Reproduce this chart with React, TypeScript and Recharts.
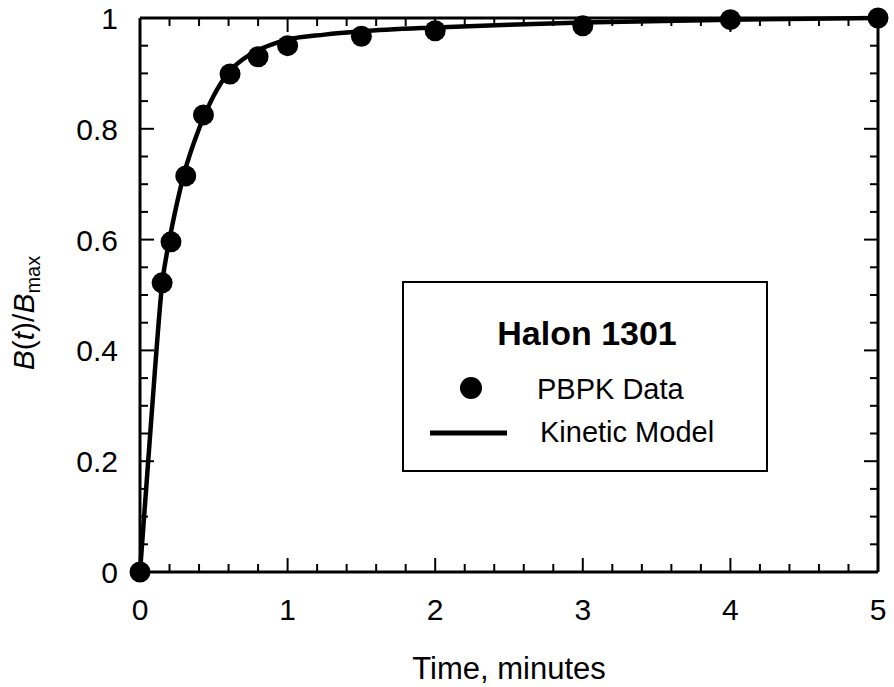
import {
    ComposedChart,
    Line,
    Scatter,
    XAxis,
    YAxis,
    Legend,
} from 'recharts'

// PBPK simulation points (time in minutes, B(t)/Bmax)
const pbpkTime = [0, 0.15, 0.21, 0.31, 0.43, 0.61, 0.8, 1.0, 1.5, 2, 3, 4, 5]
const pbpkValue = [0, 0.522, 0.596, 0.715, 0.825, 0.899, 0.93, 0.95, 0.967, 0.977, 0.986, 0.997, 1.0]

// kinetic model curve
const modelTime = [0, 0.05, 0.1, 0.15, 0.2, 0.25, 0.3, 0.4, 0.5, 0.6, 0.7, 0.8, 0.9, 1.0, 1.25, 1.5, 2, 2.5, 3, 4, 5]
const modelValue = [0, 0.18, 0.36, 0.52, 0.6, 0.665, 0.72, 0.8, 0.86, 0.902, 0.926, 0.942, 0.953, 0.961, 0.97, 0.976, 0.983, 0.988, 0.992, 0.997, 1.0]

const xTicks = [0, 0.2, 0.4, 0.6, 0.8, 1, 1.2, 1.4, 1.6, 1.8, 2, 2.2, 2.4, 2.6, 2.8, 3, 3.2, 3.4, 3.6, 3.8, 4, 4.2, 4.4, 4.6, 4.8, 5]
const yTicks = [0, 0.05, 0.1, 0.15, 0.2, 0.25, 0.3, 0.35, 0.4, 0.45, 0.5, 0.55, 0.6, 0.65, 0.7, 0.75, 0.8, 0.85, 0.9, 0.95, 1]
const yLabels = [0, 0.2, 0.4, 0.6, 0.8, 1]

const pbpkData = pbpkTime.map((t, i) => ({ t, b: pbpkValue[i] }))
const modelData = modelTime.map((t, i) => ({ t, b: modelValue[i] }))

const FONT = '"Liberation Sans", Arial, Helvetica, sans-serif'
const MAJOR = 14
const MINOR = 8
const AXIS = { stroke: '#000', strokeWidth: 3 }

const isMajorX = (v: number) => Math.abs(v - Math.round(v)) < 1e-6
const isMajorY = (v: number) => yLabels.some((l) => Math.abs(l - v) < 1e-6)

function BottomTick({ x, y, payload }: any) {
    const major = isMajorX(payload.value)
    return (
        <g>
            <line x1={x} y1={y} x2={x} y2={y - (major ? MAJOR : MINOR)} stroke="#000" strokeWidth={2} />
            {major && (
                <text x={x} y={y + 48} textAnchor="middle" fontSize={30} fontFamily={FONT} fill="#000">
                    {Math.round(payload.value)}
                </text>
            )}
        </g>
    )
}

function TopTick({ x, y, payload }: any) {
    const major = isMajorX(payload.value)
    return <line x1={x} y1={y} x2={x} y2={y + (major ? MAJOR : MINOR)} stroke="#000" strokeWidth={2} />
}

function LeftTick({ x, y, payload }: any) {
    const major = isMajorY(payload.value)
    return (
        <g>
            <line x1={x} y1={y} x2={x + (major ? MAJOR : MINOR)} y2={y} stroke="#000" strokeWidth={2} />
            {major && (
                <text x={x - 22} y={y + 11} textAnchor="end" fontSize={30} fontFamily={FONT} fill="#000">
                    {String(Number(payload.value.toFixed(1)))}
                </text>
            )}
        </g>
    )
}

function RightTick({ x, y, payload }: any) {
    const major = isMajorY(payload.value)
    return <line x1={x} y1={y} x2={x - (major ? MAJOR : MINOR)} y2={y} stroke="#000" strokeWidth={2} />
}

function Dot({ cx, cy }: any) {
    return <circle cx={cx} cy={cy} r={10.5} fill="#000" />
}

function YTitle() {
    return (
        <text
            transform="translate(34, 313) rotate(-90)"
            textAnchor="middle"
            fontSize={30}
            fontFamily={FONT}
            fill="#000"
        >
            <tspan fontStyle="italic">B</tspan>
            <tspan>(</tspan>
            <tspan fontStyle="italic">t</tspan>
            <tspan>)/</tspan>
            <tspan fontStyle="italic">B</tspan>
            <tspan fontSize={20} dy={6}>max</tspan>
        </text>
    )
}

function XTitle() {
    return (
        <text x={509} y={679} textAnchor="middle" fontSize={31} fontFamily={FONT} fill="#000">
            Time, minutes
        </text>
    )
}

function LegendBox() {
    return (
        <svg width={366} height={191} style={{ display: 'block' }}>
            <rect x={1} y={1} width={364} height={189} fill="#fff" stroke="#000" strokeWidth={2} />
            <text x={185} y={64} textAnchor="middle" fontSize={34} fontWeight="bold" fontFamily={FONT} fill="#000">
                Halon 1301
            </text>
            <circle cx={69} cy={107} r={11} fill="#000" />
            <text x={135} y={118} fontSize={29} fontFamily={FONT} fill="#000">
                PBPK Data
            </text>
            <line x1={28} y1={152} x2={105} y2={152} stroke="#000" strokeWidth={5} />
            <text x={138} y={161} fontSize={29} fontFamily={FONT} fill="#000">
                Kinetic Model
            </text>
        </svg>
    )
}

export default function App() {
    return (
        <div style={{ position: 'absolute', left: 0, top: 0, width: 894, height: 687, background: '#fff' }}>
            <ComposedChart
                width={894}
                height={687}
                margin={{ top: 17, right: 15, left: 40, bottom: 0 }}
            >
                <XAxis
                    xAxisId="bottom"
                    dataKey="t"
                    type="number"
                    domain={[0, 5]}
                    ticks={xTicks}
                    interval={0}
                    height={115}
                    tickSize={0}
                    tickMargin={0}
                    tickLine={false}
                    axisLine={AXIS}
                    tick={<BottomTick />}
                    label={<XTitle />}
                />
                <XAxis
                    xAxisId="top"
                    orientation="top"
                    dataKey="t"
                    type="number"
                    domain={[0, 5]}
                    ticks={xTicks}
                    interval={0}
                    height={1}
                    tickSize={0}
                    tickMargin={0}
                    tickLine={false}
                    axisLine={AXIS}
                    tick={<TopTick />}
                />
                <YAxis
                    yAxisId="left"
                    type="number"
                    domain={[0, 1]}
                    ticks={yTicks}
                    interval={0}
                    width={100}
                    tickSize={0}
                    tickMargin={0}
                    tickLine={false}
                    axisLine={AXIS}
                    tick={<LeftTick />}
                    label={<YTitle />}
                />
                <YAxis
                    yAxisId="right"
                    orientation="right"
                    type="number"
                    domain={[0, 1]}
                    ticks={yTicks}
                    interval={0}
                    width={1}
                    tickSize={0}
                    tickMargin={0}
                    tickLine={false}
                    axisLine={AXIS}
                    tick={<RightTick />}
                />
                <Legend
                    layout="horizontal"
                    verticalAlign="middle"
                    wrapperStyle={{ left: 402, top: 281, width: 366, height: 191 }}
                    content={() => <LegendBox />}
                />
                <Line
                    xAxisId="bottom"
                    yAxisId="left"
                    data={modelData}
                    dataKey="b"
                    type="monotone"
                    stroke="#000"
                    strokeWidth={4.5}
                    dot={false}
                    activeDot={false}
                    isAnimationActive={false}
                    name="Kinetic Model"
                />
                <Scatter
                    xAxisId="top"
                    yAxisId="right"
                    data={pbpkData}
                    dataKey="b"
                    fill="#000"
                    shape={<Dot />}
                    isAnimationActive={false}
                    name="PBPK Data"
                />
            </ComposedChart>
        </div>
    )
}
